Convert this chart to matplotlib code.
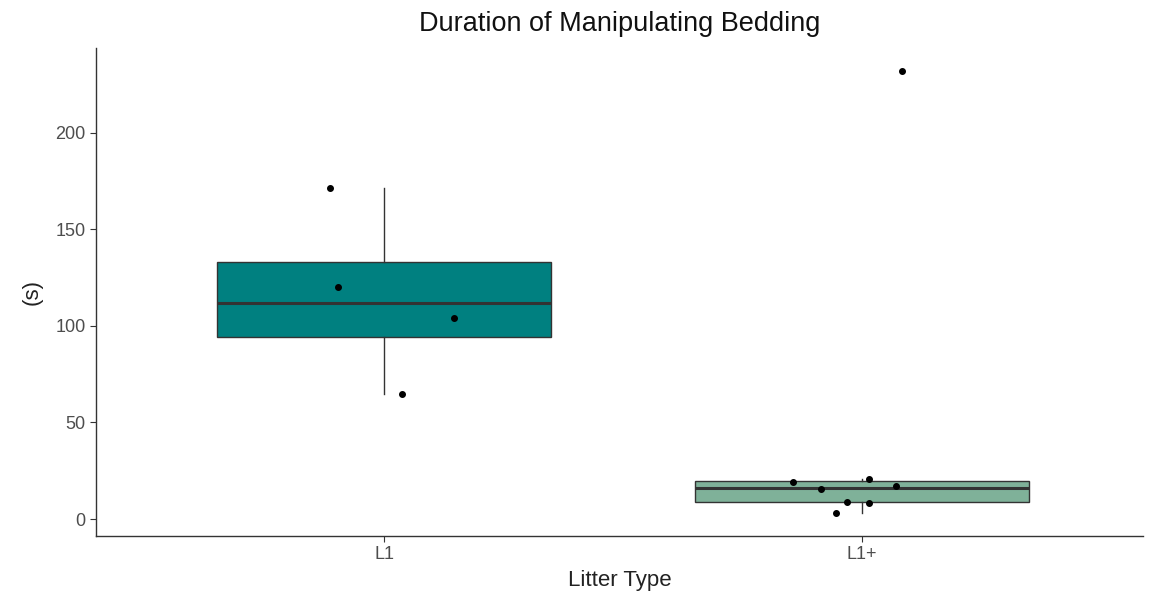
import numpy as np
import matplotlib
matplotlib.use('Agg')
import matplotlib.pyplot as plt

plt.rcParams['font.family'] = ['Liberation Sans', 'DejaVu Sans']

# Litter type groups and durations
categories = ['L1', 'L1+']
l1_values = [171.5, 120.2, 104.1, 64.8]
l1_jitter = [-0.113, -0.096, 0.146, 0.038]
l1plus_values = [19.3, 15.5, 8.7, 3.0, 20.7, 8.5, 17.0, 232.1]
l1plus_jitter = [-0.144, -0.086, -0.031, -0.055, 0.014, 0.014, 0.072, 0.084]
box_colors = ['#008080', '#7FB199']

fig = plt.figure(figsize=(11.49, 6.04), dpi=100)
ax = fig.add_axes([0.0836, 0.1126, 0.9112, 0.8079])

groups = [l1_values, l1plus_values]
bp = ax.boxplot(groups, positions=[1, 2], widths=0.7, patch_artist=True,
                showfliers=False, whis=1.5,
                medianprops=dict(color='#333333', linewidth=2.2),
                whiskerprops=dict(color='#333333', linewidth=1.0),
                capprops=dict(linewidth=0),
                boxprops=dict(edgecolor='#333333', linewidth=1.0))
for patch, c in zip(bp['boxes'], box_colors):
    patch.set_facecolor(c)

# jittered points
for i, (vals, jit) in enumerate([(l1_values, l1_jitter), (l1plus_values, l1plus_jitter)]):
    xs = np.array(jit) + i + 1
    ax.scatter(xs, vals, s=16, color='black', zorder=3)

ax.set_xlim(0.3975, 2.588)
ax.set_ylim(-8.8, 244)
ax.set_xticks([1, 2])
ax.set_xticklabels(categories)
ax.set_yticks([0, 50, 100, 150, 200])

for side in ['top', 'right']:
    ax.spines[side].set_visible(False)
for side in ['left', 'bottom']:
    ax.spines[side].set_color('#333333')
    ax.spines[side].set_linewidth(1.0)
ax.tick_params(axis='both', colors='#333333', labelcolor='#4D4D4D',
               labelsize=13, length=4)

ax.set_xlabel('Litter Type', fontsize=16, color='#222222', labelpad=5)
ax.set_ylabel('(s)', fontsize=16, color='#222222', labelpad=9)
ax.set_title('Duration of Manipulating Bedding', fontsize=19.5, color='#111111', pad=12)

fig.savefig('out.png', dpi=100)
